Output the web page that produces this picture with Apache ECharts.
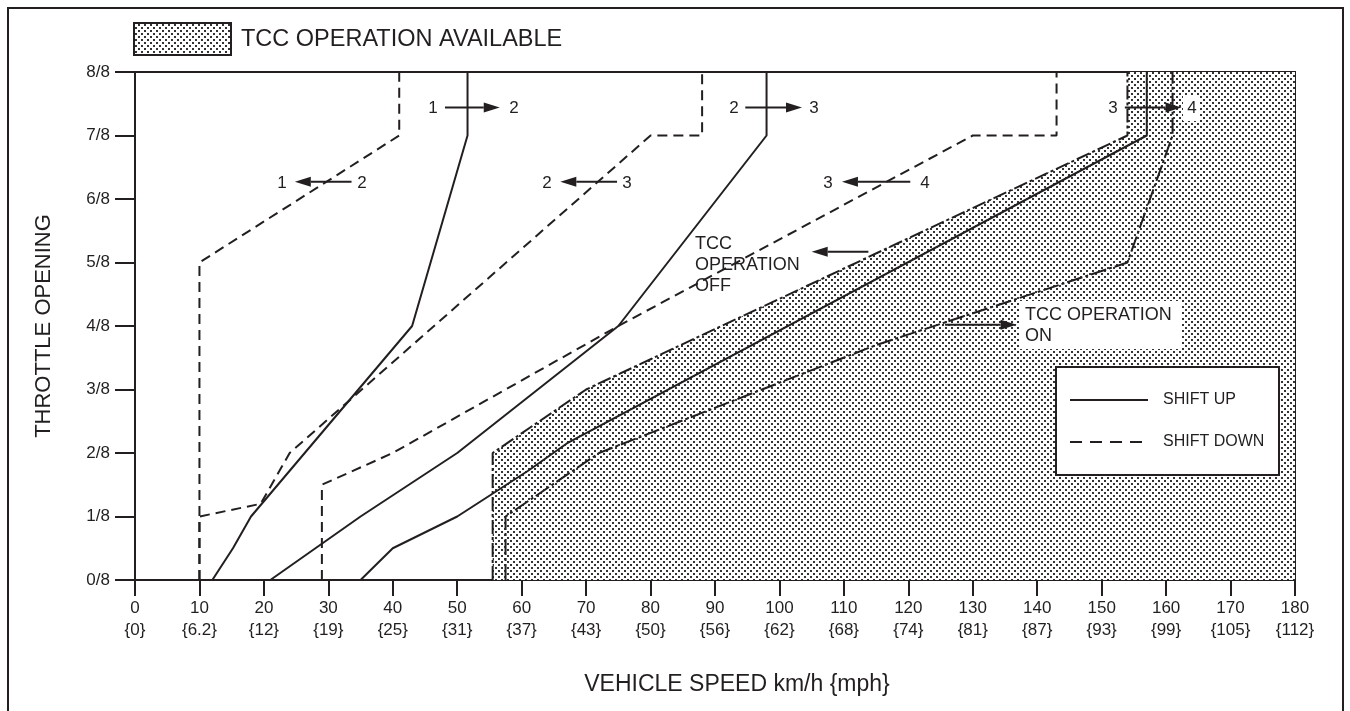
<!DOCTYPE html>
<html>
<head>
<meta charset="utf-8">
<script src="https://cdn.jsdelivr.net/npm/echarts@6/dist/echarts.min.js"></script>
<style>
  html, body { margin: 0; padding: 0; background: #fff; }
  #main { width: 1350px; height: 711px; }
</style>
</head>
<body>
<div id="main"></div>
<script>
// speed axis ticks (km/h) and matching mph labels
const speedTicks = [0, 10, 20, 30, 40, 50, 60, 70, 80, 90, 100, 110, 120, 130, 140, 150, 160, 170, 180]
const mphLabels = ['0', '6.2', '12', '19', '25', '31', '37', '43', '50', '56', '62', '68', '74', '81', '87', '93', '99', '105', '112']
const throttleLabels = ['0/8', '1/8', '2/8', '3/8', '4/8', '5/8', '6/8', '7/8', '8/8']

// lines: [speed km/h, throttle in eighths]
const shiftUp12 = [[12, 0], [15.2, 0.5], [18, 1], [43, 4], [51.6, 7], [51.6, 8]]
const shiftUp23 = [[21, 0], [35, 1], [50, 2], [75, 4], [98, 7], [98, 8]]
const shiftUp34 = [[35, 0], [40, 0.5], [50, 1], [61, 1.72], [67, 2.15], [157, 7], [157, 8]]
const shiftDown21 = [[10, 0], [10, 5], [41, 7], [41, 8]]
const shiftDown32 = [[10, 0], [10, 1], [19.5, 1.2], [24, 2], [80, 7], [88, 7], [88, 8]]
const shiftDown43 = [[29, 0], [29, 1.5], [40, 2], [75, 4], [130, 7], [143, 7], [143, 8]]
const tccOff = [[55.5, 0], [55.5, 2], [70, 3], [154, 7], [154, 8]]
const tccOn = [[57.5, 0], [57.5, 1], [72, 2], [115, 3.7], [154, 5], [161, 7], [161, 8]]
const tccArea = [[55.5, 0], [55.5, 2], [70, 3], [154, 7], [154, 8], [180, 8]]

// arrows: [tail speed, tail throttle, tip speed, tip throttle]
const arrows = [
  [48.1, 7.44, 56.6, 7.44],
  [33.6, 6.27, 24.8, 6.27],
  [94.7, 7.44, 103.5, 7.44],
  [74.8, 6.27, 66.0, 6.27],
  [120.3, 6.27, 109.7, 6.27],
  [153.6, 7.44, 162.4, 7.44],
  [113.8, 5.17, 105.0, 5.17],
  [125.7, 4.02, 136.8, 4.02]
]

const FONT = '"Liberation Sans", Arial, Helvetica, sans-serif'
const INK = '#231f20'

function dotPattern () {
  const c = document.createElement('canvas')
  c.width = 6
  c.height = 6
  const g = c.getContext('2d')
  g.fillStyle = '#fff'
  g.fillRect(0, 0, 6, 6)
  g.fillStyle = '#333'
  g.fillRect(0, 0, 2, 2)
  g.fillRect(3, 3, 2, 2)
  return c
}
const dots = { image: dotPattern(), repeat: 'repeat' }

function lineSeries (name, data, dash) {
  return {
    name: name,
    type: 'line',
    data: data,
    showSymbol: false,
    symbol: 'none',
    silent: true,
    z: 5,
    lineStyle: { color: INK, width: 2, type: dash || 'solid' }
  }
}

function label (text, x, y, size, extra) {
  return {
    type: 'text',
    z: 120,
    x: x,
    y: y,
    style: Object.assign({
      text: text,
      fill: INK,
      font: size + 'px ' + FONT,
      align: 'center',
      verticalAlign: 'middle'
    }, extra || {})
  }
}

function renderArrow (params, api) {
  const p0 = api.coord([api.value(0), api.value(1)])
  const p1 = api.coord([api.value(2), api.value(3)])
  const dx = p1[0] - p0[0]
  const dy = p1[1] - p0[1]
  const len = Math.sqrt(dx * dx + dy * dy)
  const ux = dx / len
  const uy = dy / len
  const head = 16
  const half = 5
  const bx = p1[0] - ux * head
  const by = p1[1] - uy * head
  return {
    type: 'group',
    children: [
      {
        type: 'line',
        shape: { x1: p0[0], y1: p0[1], x2: bx, y2: by },
        style: { stroke: INK, lineWidth: 2 }
      },
      {
        type: 'polygon',
        shape: { points: [[p1[0], p1[1]], [bx - uy * half, by + ux * half], [bx + uy * half, by - ux * half]] },
        style: { fill: INK }
      }
    ]
  }
}

const chart = echarts.init(document.getElementById('main'))
const option = {
  backgroundColor: '#fff',
  animation: false,
  grid: {
    left: 135, right: 55, top: 72, bottom: 131,
    show: true, borderColor: INK, borderWidth: 2, backgroundColor: 'transparent'
  },
  xAxis: {
    type: 'value',
    min: 0,
    max: 180,
    interval: 10,
    name: 'VEHICLE SPEED km/h {mph}',
    nameLocation: 'middle',
    nameGap: 93,
    nameTextStyle: { fontFamily: FONT, fontSize: 23, color: INK, padding: [0, 0, 0, 44] },
    axisLine: { lineStyle: { color: INK, width: 2 } },
    axisTick: { length: 16, lineStyle: { color: INK, width: 2 } },
    axisLabel: {
      margin: 17,
      fontFamily: FONT,
      fontSize: 17,
      color: INK,
      lineHeight: 22,
      formatter: function (v) {
        const i = speedTicks.indexOf(v)
        return v + '\n{' + mphLabels[i] + '}'
      }
    },
    splitLine: { show: false }
  },
  yAxis: {
    type: 'value',
    min: 0,
    max: 8,
    interval: 1,
    name: 'THROTTLE OPENING',
    nameLocation: 'middle',
    nameGap: 80,
    nameTextStyle: { fontFamily: FONT, fontSize: 22, color: INK },
    axisLine: { show: true, lineStyle: { color: INK, width: 2 } },
    axisTick: { show: true, length: 20, lineStyle: { color: INK, width: 2 } },
    axisLabel: {
      margin: 25,
      fontFamily: FONT,
      fontSize: 17,
      color: INK,
      formatter: function (v) { return throttleLabels[v] }
    },
    splitLine: { show: false }
  },
  series: [
    {
      name: 'TCC OPERATION AVAILABLE',
      type: 'line',
      data: tccArea,
      symbol: 'none',
      silent: true,
      z: 1,
      lineStyle: { width: 0 },
      areaStyle: { color: dots, opacity: 1 }
    },
    lineSeries('tcc off', tccOff, [14, 3, 3, 3]),
    lineSeries('tcc on', tccOn, [16, 3, 3, 3]),
    lineSeries('1-2 up', shiftUp12),
    lineSeries('2-3 up', shiftUp23),
    lineSeries('3-4 up', shiftUp34),
    lineSeries('2-1 down', shiftDown21, [10, 6]),
    lineSeries('3-2 down', shiftDown32, [10, 6]),
    lineSeries('4-3 down', shiftDown43, [10, 6]),
    {
      name: 'arrows',
      type: 'custom',
      data: arrows,
      silent: true,
      z: 8,
      encode: { x: [0, 2], y: [1, 3] },
      renderItem: renderArrow
    }
  ],
  graphic: [
    {
      type: 'rect', z: 100, silent: true,
      shape: { x: 8, y: 8, width: 1335, height: 720 },
      style: { fill: 'none', stroke: INK, lineWidth: 2 }
    },
    {
      type: 'rect', z: 100,
      shape: { x: 134, y: 23, width: 97, height: 32 },
      style: { fill: dots, stroke: INK, lineWidth: 2 }
    },
    label('TCC OPERATION AVAILABLE', 241, 40, 23.5, { align: 'left' }),
    // in-plot legend
    {
      type: 'rect', z: 100,
      shape: { x: 1056, y: 367, width: 223, height: 108 },
      style: { fill: '#fff', stroke: INK, lineWidth: 2 }
    },
    {
      type: 'line', z: 110,
      shape: { x1: 1070, y1: 400, x2: 1148, y2: 400 },
      style: { stroke: INK, lineWidth: 2 }
    },
    {
      type: 'line', z: 110,
      shape: { x1: 1070, y1: 442, x2: 1148, y2: 442 },
      style: { stroke: INK, lineWidth: 2, lineDash: [12, 8] }
    },
    label('SHIFT UP', 1163, 400, 16, { align: 'left' }),
    label('SHIFT DOWN', 1163, 442, 16, { align: 'left' }),
    // gear labels
    label('1', 433, 108, 17), label('2', 514, 108, 17),
    label('1', 282, 183, 17), label('2', 362, 183, 17),
    label('2', 734, 108, 17), label('3', 814, 108, 17),
    label('2', 547, 183, 17), label('3', 627, 183, 17),
    label('3', 828, 183, 17), label('4', 925, 183, 17),
    label('3', 1113, 108, 17),
    {
      type: 'rect', z: 110,
      shape: { x: 1183, y: 96, width: 17, height: 25 },
      style: { fill: '#fff' }
    },
    label('4', 1192, 108, 17),
    label('TCC\nOPERATION\nOFF', 695, 265, 18, { align: 'left', lineHeight: 21 }),
    {
      type: 'rect', z: 110,
      shape: { x: 1020, y: 301, width: 161, height: 48 },
      style: { fill: '#fff' }
    },
    label('TCC OPERATION\nON', 1025, 326, 18, { align: 'left', lineHeight: 21 })
  ]
}
chart.setOption(option)
</script>
</body>
</html>
